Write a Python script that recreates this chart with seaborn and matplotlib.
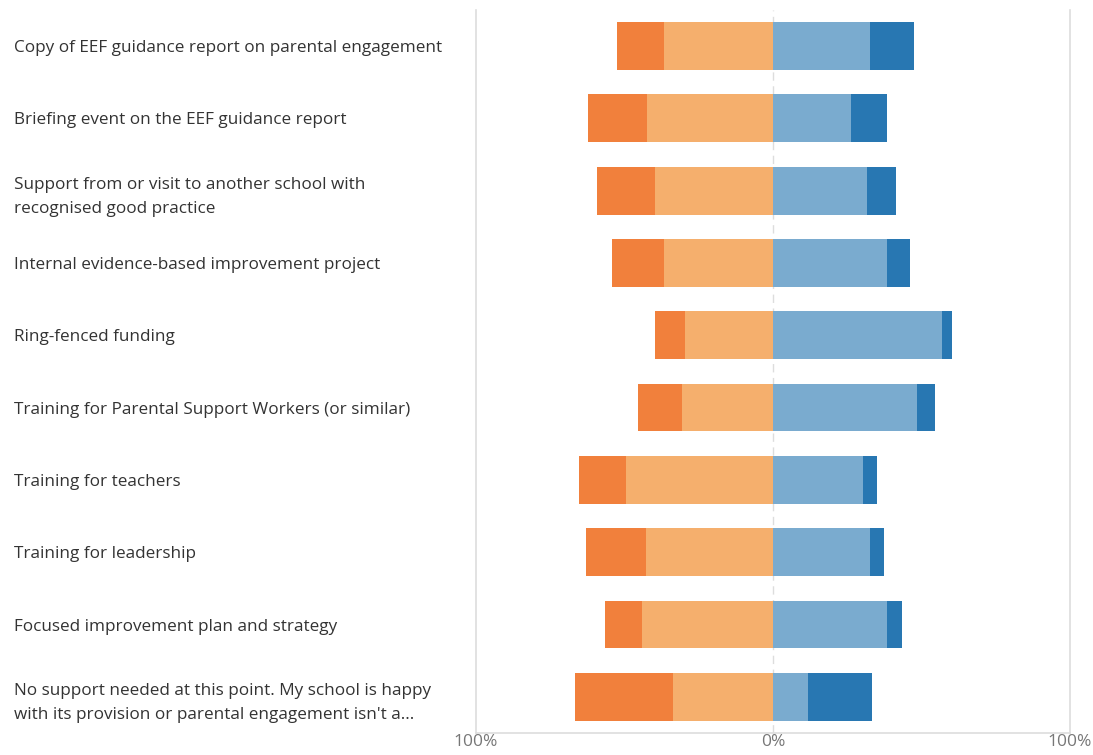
import pandas as pd
import matplotlib
matplotlib.use("Agg")
import matplotlib.pyplot as plt
import seaborn as sns

# data (percent)
labels = [
    "Copy of EEF guidance report on parental engagement",
    "Briefing event on the EEF guidance report",
    "Support from or visit to another school with\nrecognised good practice",
    "Internal evidence-based improvement project",
    "Ring-fenced funding",
    "Training for Parental Support Workers (or similar)",
    "Training for teachers",
    "Training for leadership",
    "Focused improvement plan and strategy",
    "No support needed at this point. My school is happy\nwith its provision or parental engagement isn't a...",
]
dark_orange = [15.8, 19.9, 19.5, 17.5, 10.1, 14.8, 15.8, 20.2, 12.5, 33.0]
light_orange = [36.7, 42.4, 39.7, 36.7, 29.6, 30.6, 49.5, 42.8, 44.1, 33.7]
light_blue = [32.7, 26.3, 31.6, 38.4, 56.9, 48.5, 30.3, 32.7, 38.4, 11.8]
dark_blue = [14.8, 12.1, 9.8, 7.7, 3.4, 6.1, 4.7, 4.7, 5.1, 21.5]

tick_vals = [-100, 0, 100]
tick_labels = ["100%", "0%", "100%"]

c_do = "#f1803c"
c_lo = "#f5af6d"
c_lb = "#7aabcf"
c_db = "#2877b2"

df = pd.DataFrame({
    "label": labels,
    "do": dark_orange,
    "lo": light_orange,
    "lb": light_blue,
    "db": dark_blue,
})
df["neg_total"] = -(df["do"] + df["lo"])
df["neg_inner"] = -df["lo"]
df["pos_total"] = df["lb"] + df["db"]
df["pos_inner"] = df["lb"]

sns.set_style("white")
plt.rcParams["font.family"] = ["Open Sans", "DejaVu Sans"]

fig = plt.figure(figsize=(10.93, 7.55), dpi=100)
ax = fig.add_axes([0.4355, 0.029, 0.5435, 0.958])

# stacked by overlapping cumulative bars
for col, color in [("neg_total", c_do), ("neg_inner", c_lo),
                   ("pos_total", c_db), ("pos_inner", c_lb)]:
    sns.barplot(data=df, y="label", x=col, orient="h", color=color,
                width=0.66, saturation=1, ax=ax, linewidth=0)

ax.axvline(0, color="#dddddd", lw=1, ls=(0, (6, 4)), zorder=0)

ax.set_xlim(-100, 100)
ax.set_ylim(9.5, -0.5)
ax.set_xticks(tick_vals)
ax.set_xticklabels(tick_labels, color="#777777", fontsize=12.5)
ax.tick_params(axis="x", length=0, pad=1)
ax.set_xlabel("")
ax.set_ylabel("")

ax.set_yticks(range(len(labels)))
ax.set_yticklabels(labels, fontsize=12.3, color="#333333", ha="left",
                   linespacing=1.7)
ax.tick_params(axis="y", length=0, pad=333)

for side in ["left", "right", "bottom"]:
    ax.spines[side].set_color("#dddddd")
    ax.spines[side].set_linewidth(1.2)
ax.spines["top"].set_visible(False)

fig.savefig("out.png", dpi=100)
